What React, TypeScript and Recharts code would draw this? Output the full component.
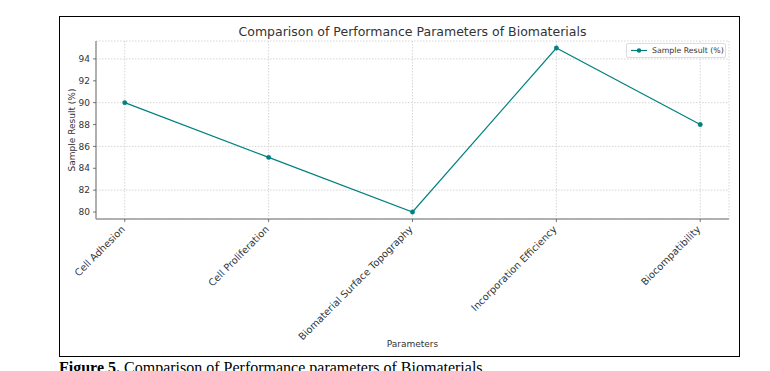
import React from 'react';
import { LineChart, Line, XAxis, YAxis, CartesianGrid, Label } from 'recharts';

const categories = [
  'Cell Adhesion',
  'Cell Proliferation',
  'Biomaterial Surface Topography',
  'Incorporation Efficiency',
  'Biocompatibility',
];
const sampleResult = [90, 85, 80, 95, 88];
const yTicks = [80, 82, 84, 86, 88, 90, 92, 94];
const xTicks = [0, 1, 2, 3, 4];
const seriesName = 'Sample Result (%)';
const chartTitle = 'Comparison of Performance Parameters of Biomaterials';
const xLabel = 'Parameters';

const data = categories.map((c, i) => ({ idx: i, name: c, value: sampleResult[i] }));

const FONT = '"DejaVu Sans", Verdana, sans-serif';
const TEAL = '#008080';
const TEXT = '#333333';
const AXIS = '#999999';

const XTick = (props: any) => {
  const { x, y, payload } = props;
  const ax = x - 4;
  const ay = y + 1;
  return (
    <text
      x={ax}
      y={ay}
      transform={`rotate(-45, ${ax}, ${ay})`}
      textAnchor="end"
      fontSize={9.8}
      fontFamily={FONT}
      fill={TEXT}
      dy="0.71em"
    >
      {categories[payload.value]}
    </text>
  );
};

export default function App() {
  return (
    <div style={{ position: 'absolute', left: 0, top: 0, width: 770, height: 371, overflow: 'hidden', background: '#fff' }}>
      <div
        style={{
          position: 'absolute',
          left: 59,
          top: 16,
          width: 681,
          height: 341,
          border: '1px solid #000',
          boxSizing: 'border-box',
        }}
      />
      <div style={{ position: 'absolute', left: 0, top: 0 }}>
        <LineChart width={770} height={371} data={data} margin={{ top: 41, right: 41, left: 56, bottom: 22 }}>
          <CartesianGrid stroke="#cccccc" strokeDasharray="1.5 1.5" strokeWidth={0.8} />
          <XAxis
            dataKey="idx"
            type="number"
            domain={[-0.2, 4.2]}
            ticks={xTicks}
            interval={0}
            height={130}
            tick={<XTick />}
            tickSize={3}
            tickMargin={2}
            stroke={AXIS}
            axisLine={{ stroke: AXIS, strokeWidth: 1.5 }}
            tickLine={{ stroke: '#555', strokeWidth: 0.8 }}
          >
            <Label value={xLabel} position="insideBottom" offset={2} fontSize={9} fontFamily={FONT} fill={TEXT} />
          </XAxis>
          <YAxis
            type="number"
            domain={[79.36, 95.64]}
            ticks={yTicks}
            width={40}
            tickSize={3}
            tickMargin={3}
            tick={{ fontSize: 9, fontFamily: FONT, fill: TEXT }}
            axisLine={{ stroke: AXIS, strokeWidth: 1.5 }}
            tickLine={{ stroke: '#555', strokeWidth: 0.8 }}
          >
            <Label value={seriesName} angle={-90} position="insideLeft" offset={16} fontSize={9} fontFamily={FONT} fill={TEXT} style={{ textAnchor: 'middle' }} />
          </YAxis>
          <Line
            type="linear"
            dataKey="value"
            name={seriesName}
            stroke={TEAL}
            strokeWidth={1.2}
            dot={{ r: 2.2, fill: TEAL, stroke: TEAL, strokeWidth: 0.5 }}
            isAnimationActive={false}
          />
        </LineChart>
      </div>
      <div
        style={{
          position: 'absolute',
          left: 96,
          width: 633,
          top: 24,
          textAlign: 'center',
          fontFamily: FONT,
          fontSize: 12.5,
          color: TEXT,
          lineHeight: '15px',
          whiteSpace: 'nowrap',
        }}
      >
        {chartTitle}
      </div>
      <div
        style={{
          position: 'absolute',
          left: 626,
          top: 43,
          width: 100,
          height: 15,
          border: '1px solid #dddddd',
          borderRadius: 2,
          boxSizing: 'border-box',
          background: '#fff',
          display: 'flex',
          alignItems: 'center',
          fontFamily: FONT,
          fontSize: 7.8,
          color: TEXT,
          whiteSpace: 'nowrap',
        }}
      >
        <svg width={20} height={13} style={{ marginLeft: 2, flexShrink: 0 }}>
          <line x1={2} y1={6.5} x2={18} y2={6.5} stroke={TEAL} strokeWidth={1.2} />
          <circle cx={10} cy={6.5} r={2.2} fill={TEAL} />
        </svg>
        <span style={{ marginLeft: 3 }}>{seriesName}</span>
      </div>
      <div
        style={{
          position: 'absolute',
          left: 59,
          top: 360,
          fontFamily: '"Liberation Serif", "Times New Roman", serif',
          fontSize: 16,
          lineHeight: '16px',
          color: '#000',
          whiteSpace: 'nowrap',
        }}
      >
        <b>Figure 5.</b> Comparison of Performance parameters of Biomaterials
      </div>
    </div>
  );
}
